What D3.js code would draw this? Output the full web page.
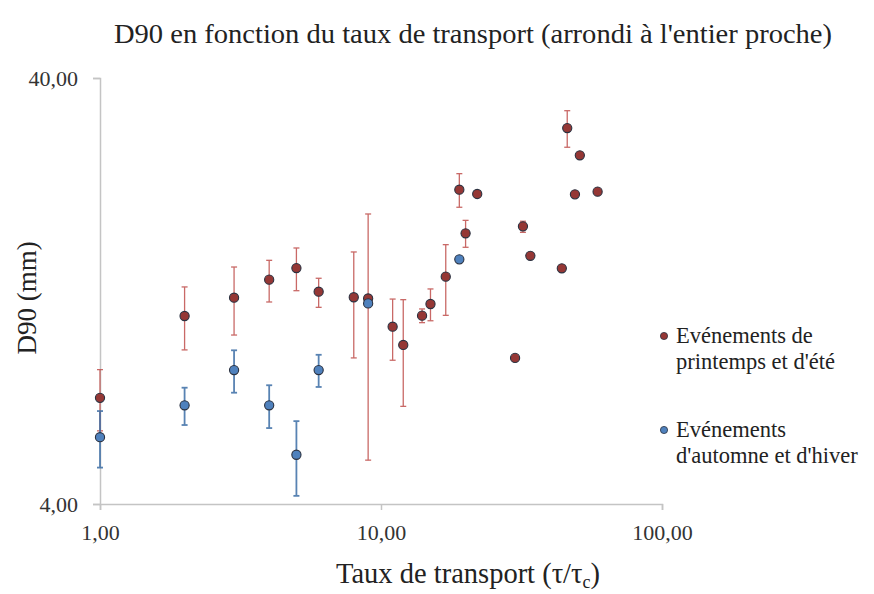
<!DOCTYPE html>
<html>
<head>
<meta charset="utf-8">
<script src="https://cdn.jsdelivr.net/npm/d3@7"></script>
<style>
  body { margin: 0; background: #fff; }
</style>
</head>
<body>
<svg width="874" height="594"></svg>
<script>
// taux de transport (arrondi) et D90 (mm)
var redX  = [1, 2, 3, 4, 5, 6, 8, 9, 11, 12, 14, 15, 17, 19, 20, 22, 30, 32, 34, 44, 46, 49, 51, 59];
var redY  = [7.10, 11.05, 12.20, 13.45, 14.32, 12.60, 12.23, 12.15, 10.43, 9.45, 11.07, 11.79, 13.67, 21.87, 17.28, 21.37, 8.81, 17.94, 15.30, 14.30, 30.52, 21.33, 26.34, 21.64];
var redLo = [5.94, 9.20, 9.97, 11.92, 12.67, 11.58, 8.81, 5.07, 8.70, 6.78, 10.66, 10.77, 11.09, 19.89, 16.02, null, null, 17.37, null, null, 27.51, null, null, null];
var redHi = [8.27, 12.93, 14.40, 14.93, 15.96, 13.55, 15.62, 19.18, 12.11, 12.07, 11.48, 12.79, 16.25, 23.85, 18.53, null, null, 18.44, null, null, 33.52, null, null, null];

var blueX  = [1, 2, 3, 4, 5, 6, 9, 19];
var blueY  = [5.74, 6.82, 8.25, 6.82, 5.22, 8.25, 11.83, 15.01];
var blueLo = [4.87, 6.13, 7.30, 6.03, 4.18, 7.53, null, null];
var blueHi = [6.61, 7.50, 9.18, 7.60, 6.26, 8.96, null, null];

var xTicks = [1, 10, 100];
var yTicks = [4, 40];

var series = [
  { name: ["Evénements de", "printemps et d'été"], fill: "#953735", bar: "#c0504d", bw: 1.3,
    x: redX, y: redY, lo: redLo, hi: redHi },
  { name: ["Evénements", "d'automne et d'hiver"], fill: "#4f81bd", bar: "#3c6ea6", bw: 1.8,
    x: blueX, y: blueY, lo: blueLo, hi: blueHi }
];

var FONT = "'Liberation Serif', 'Times New Roman', serif";
var svg = d3.select("svg");
var fmt = function(d) { return d3.format(".2f")(d).replace(".", ","); };

var x = d3.scaleLog().domain([1, 100]).range([100, 662]);
var y = d3.scaleLog().domain([4, 40]).range([504, 78]);

// axes
var xAxis = svg.append("g")
  .attr("transform", "translate(0,504)")
  .call(d3.axisBottom(x).tickValues(xTicks).tickFormat(fmt).tickSize(6).tickPadding(14));
var yAxis = svg.append("g")
  .attr("transform", "translate(100,0)")
  .call(d3.axisLeft(y).tickValues(yTicks).tickFormat(fmt).tickSize(7).tickPadding(15));

[xAxis, yAxis].forEach(function(a) {
  a.select(".domain").attr("stroke", "#c4c4c4").attr("stroke-width", 1.5);
  a.selectAll(".tick line").attr("stroke", "#c4c4c4").attr("stroke-width", 1.5);
  a.selectAll(".tick text").attr("font-family", FONT)
    .attr("font-size", 22).attr("fill", "#333");
});

// error bars then points
series.forEach(function(s) {
  var g = svg.append("g");
  var idx = d3.range(s.x.length).filter(function(i) { return s.lo[i] != null; });
  var bars = g.selectAll("g.err").data(idx).enter().append("g")
    .attr("class", "err")
    .attr("stroke", s.bar).attr("stroke-width", s.bw).attr("opacity", 0.85);
  bars.append("line")
    .attr("x1", function(i) { return x(s.x[i]); })
    .attr("x2", function(i) { return x(s.x[i]); })
    .attr("y1", function(i) { return y(s.lo[i]); })
    .attr("y2", function(i) { return y(s.hi[i]); });
  ["lo", "hi"].forEach(function(k) {
    bars.append("line")
      .attr("x1", function(i) { return x(s.x[i]) - 3; })
      .attr("x2", function(i) { return x(s.x[i]) + 3; })
      .attr("y1", function(i) { return y(s[k][i]); })
      .attr("y2", function(i) { return y(s[k][i]); });
  });
});

series.forEach(function(s) {
  svg.append("g").selectAll("circle")
    .data(d3.range(s.x.length))
    .enter().append("circle")
    .attr("cx", function(i) { return x(s.x[i]); })
    .attr("cy", function(i) { return y(s.y[i]); })
    .attr("r", 4.6)
    .attr("fill", s.fill)
    .attr("stroke", "#2a3140")
    .attr("stroke-width", 1.1);
});

// titles
svg.append("text")
  .attr("x", 473).attr("y", 43)
  .attr("text-anchor", "middle")
  .attr("font-family", FONT).attr("font-size", 28).attr("fill", "#222")
  .attr("textLength", 718).attr("lengthAdjust", "spacingAndGlyphs")
  .text("D90 en fonction du taux de transport (arrondi à l'entier proche)");

svg.append("text")
  .attr("transform", "translate(36,298) rotate(-90)")
  .attr("text-anchor", "middle")
  .attr("font-family", FONT).attr("font-size", 27).attr("fill", "#222")
  .text("D90 (mm)");

var xt = svg.append("text")
  .attr("x", 468).attr("y", 583)
  .attr("text-anchor", "middle")
  .attr("font-family", FONT).attr("font-size", 28.5).attr("fill", "#222");
xt.append("tspan").text("Taux de transport (τ/τ");
xt.append("tspan").attr("dy", 5).attr("font-size", 18).text("c");
xt.append("tspan").attr("dy", -5).text(")");

// legend
var leg = svg.append("g").selectAll("g")
  .data(series).enter().append("g")
  .attr("transform", function(d, i) { return "translate(664," + (336 + i * 94) + ")"; });
leg.append("circle").attr("r", 3.6)
  .attr("fill", function(d) { return d.fill; })
  .attr("stroke", "#2a3140").attr("stroke-width", 0.8);
leg.append("text")
  .attr("font-family", FONT).attr("font-size", 22.5).attr("fill", "#222")
  .selectAll("tspan")
  .data(function(d) { return d.name; })
  .enter().append("tspan")
  .attr("x", 12)
  .attr("y", function(d, i) { return 7 + i * 26; })
  .text(function(d) { return d; });
</script>
</body>
</html>
